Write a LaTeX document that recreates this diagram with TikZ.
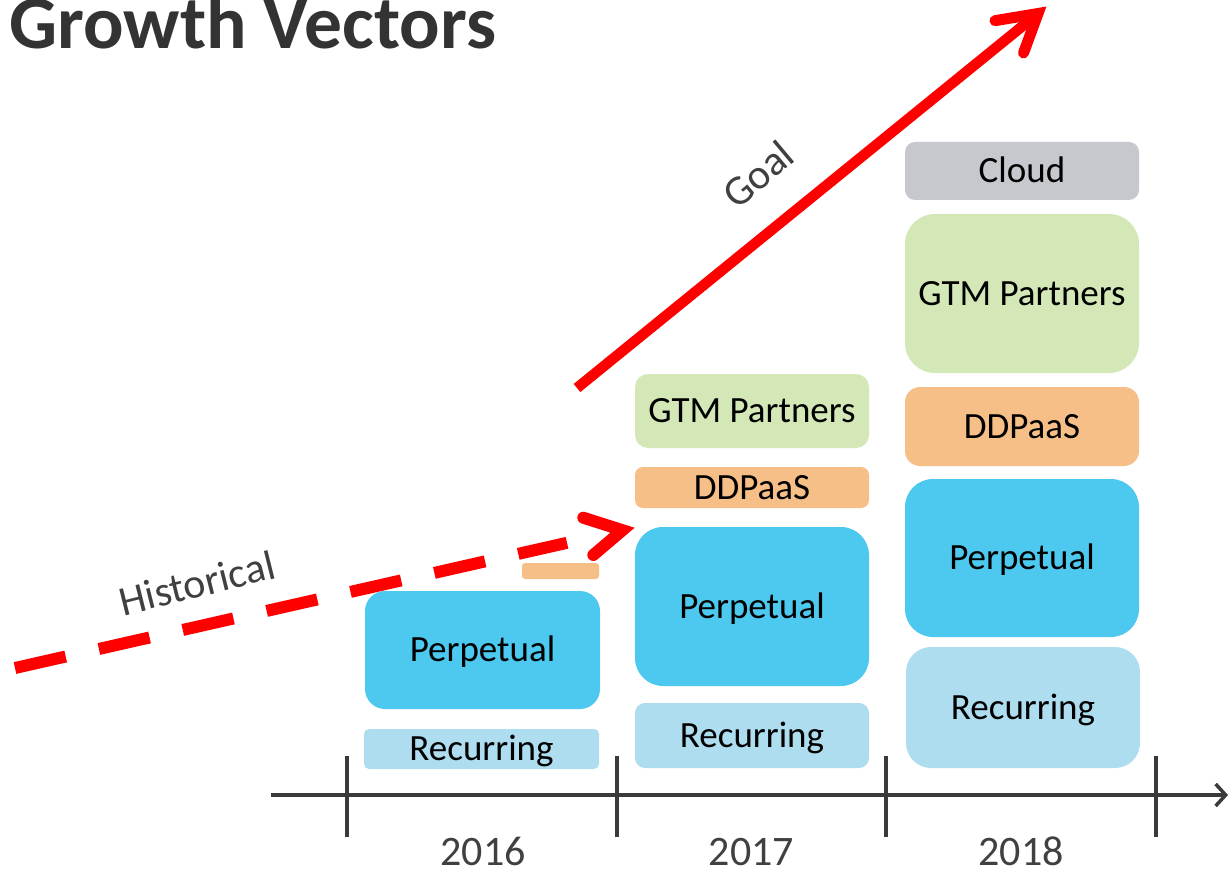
\documentclass[tikz,border=0pt]{standalone}
\usepackage{fontspec}
\setmainfont{Carlito}
\usetikzlibrary{arrows.meta}
\definecolor{perp}{HTML}{4DC8EF}
\definecolor{recur}{HTML}{ADDDEE}
\definecolor{gtm}{HTML}{D3E8B6}
\definecolor{ddp}{HTML}{F6BF87}
\definecolor{cloudc}{HTML}{C6C8CD}
\definecolor{txtgray}{HTML}{404040}
\definecolor{titlegray}{HTML}{333333}
\definecolor{axisgray}{HTML}{3A3A3A}
\begin{document}
\begin{tikzpicture}[x=1pt,y=-1pt,
  blk/.style={draw=none, inner sep=0pt, text=black, font=\fontsize{37}{41}\selectfont, text height=23.8pt, text depth=0pt},
  plainblk/.style={draw=none, inner sep=0pt},
  lbl/.style={inner sep=0pt, text=txtgray, font=\fontsize{42}{46}\selectfont},
  yearlbl/.style={inner sep=0pt, text=txtgray, font=\fontsize{42}{46}\selectfont, anchor=base},
  redline/.style={draw=red, line width=11pt},
  axisline/.style={draw=axisgray, line width=3.5pt},
]
\useasboundingbox (0,0) rectangle (1229,869);

% title
\node[anchor=base west, inner sep=0pt, text=titlegray, font=\fontsize{75.5}{80}\selectfont\bfseries] (title) at (9,48.5) {Growth Vectors};

% 2016 column
\node[blk, fill=perp, rounded corners=20pt, minimum width=235pt, minimum height=118pt] (p16) at (482.5,650) {Perpetual};
\node[blk, fill=recur, rounded corners=5pt, minimum width=235pt, minimum height=40pt] (r16) at (481.5,749) {Recurring};
\node[plainblk, fill=ddp, rounded corners=3pt, minimum width=77pt, minimum height=16pt] (d16) at (560.5,571) {};

% 2017 column
\node[blk, fill=gtm, rounded corners=13pt, minimum width=234pt, minimum height=74pt] (g17) at (752,411) {GTM Partners};
\node[blk, fill=ddp, rounded corners=8pt, minimum width=234pt, minimum height=41pt] (d17) at (752,487.5) {DDPaaS};
\node[blk, fill=perp, rounded corners=28pt, minimum width=234pt, minimum height=159pt] (p17) at (752,606.5) {Perpetual};
\node[blk, fill=recur, rounded corners=10pt, minimum width=234pt, minimum height=65pt] (r17) at (752,735.5) {Recurring};

% 2018 column
\node[blk, fill=cloudc, rounded corners=10pt, minimum width=234pt, minimum height=58pt] (c18) at (1022,171) {Cloud};
\node[blk, fill=gtm, rounded corners=30pt, minimum width=234pt, minimum height=159pt] (g18) at (1022,293.5) {GTM Partners};
\node[blk, fill=ddp, rounded corners=15pt, minimum width=234pt, minimum height=79pt] (d18) at (1022,426.5) {DDPaaS};
\node[blk, fill=perp, rounded corners=28pt, minimum width=234pt, minimum height=158pt] (p18) at (1022,558) {Perpetual};
\node[blk, fill=recur, rounded corners=25pt, minimum width=234pt, minimum height=121pt] (r18) at (1023,707.5) {Recurring};

% axis
\coordinate (ax0) at (271,795);
\coordinate (ax1) at (1228,795);
\draw[axisline, -{Straight Barb[length=10pt,width=22pt,line width=3.5pt]}] (ax0) -- (ax1);
\foreach \tx/\nm in {347/t1, 617/t2, 886/t3, 1156/t4}{
  \coordinate (\nm a) at (\tx,756);
  \coordinate (\nm b) at (\tx,837);
  \draw[axisline] (\nm a) -- (\nm b);
}
\node[yearlbl] (y16) at (483,865) {2016};
\node[yearlbl] (y17) at (751.5,865) {2017};
\node[yearlbl] (y18) at (1021,865) {2018};

% historical dashed arrow
\coordinate (h0) at (15,668);
\coordinate (h1) at (567,542.8);
\coordinate (htip) at (622.5,530.2);
\coordinate (ha1) at (583.3,517.7);
\coordinate (ha2) at (593.3,555);
\draw[redline, line width=12pt, dash pattern=on 52pt off 34pt] (h0) -- (h1);
\draw[redline, line width=12pt, line cap=round, line join=miter] (ha1) -- (htip) -- (ha2);
\node[lbl, rotate=14] (hist) at (197,583) {Historical};

% goal arrow
\coordinate (g0) at (577,388);
\coordinate (gtip) at (1038,13.5);
\coordinate (ga1) at (995,20.7);
\coordinate (ga2) at (1023.5,53);
\draw[redline, line width=10.5pt] (g0) -- (gtip);
\draw[redline, line width=11pt, line cap=round, line join=miter] (ga1) -- (gtip) -- (ga2);
\node[lbl, rotate=40] (goal) at (758,174) {Goal};
\end{tikzpicture}
\end{document}
